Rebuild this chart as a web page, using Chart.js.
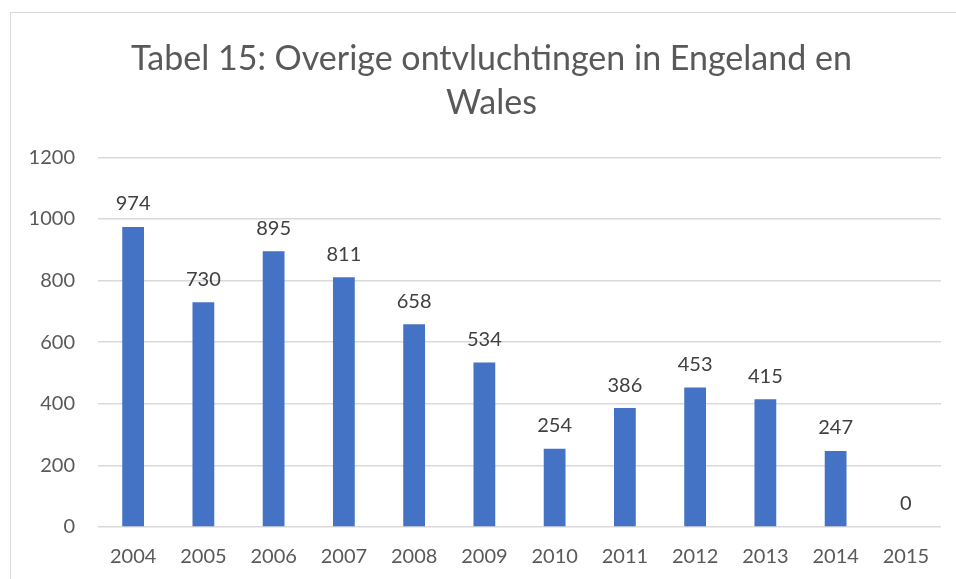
<!DOCTYPE html>
<html>
<head>
<meta charset="utf-8">
<script src="https://cdn.jsdelivr.net/npm/chart.js@4"></script>
<style>
  body { margin: 0; background: #fff; }
  #wrap { position: relative; width: 956px; height: 579px; overflow: hidden; }
  #frame { position: absolute; left: 10px; top: 12px; width: 960px; height: 600px; border: 1px solid #d9d9d9; }
  canvas { position: absolute; left: 0; top: 0; }
</style>
</head>
<body>
<div id="wrap">
  <div id="frame"></div>
  <canvas id="chart" width="956" height="579"></canvas>
</div>
<script>
const years = ['2004', '2005', '2006', '2007', '2008', '2009', '2010', '2011', '2012', '2013', '2014', '2015'];
const escapes = [974, 730, 895, 811, 658, 534, 254, 386, 453, 415, 247, 0];
const titleLines = ['Tabel 15: Overige ontvluchtingen in Engeland en', 'Wales'];

const FONT = 'Lato, "Open Sans", sans-serif';

// waarden boven de staven
const valueLabels = {
    id: 'valueLabels',
    afterLayout(chart) {
        // titel staat iets rechts van het midden, zoals in het origineel
        chart.titleBlock.left = 42;
    },
    afterDatasetsDraw(chart) {
        const ctx = chart.ctx;
        const meta = chart.getDatasetMeta(0);
        ctx.save();
        ctx.font = '20px ' + FONT;
        ctx.fillStyle = '#404040';
        ctx.textAlign = 'center';
        ctx.textBaseline = 'bottom';
        meta.data.forEach((bar, i) => {
            ctx.fillText(String(escapes[i]), bar.x, bar.y - 13);
        });
        ctx.restore();
    }
};

const ctx = document.getElementById('chart').getContext('2d');
const chart = new Chart(ctx, {
    type: 'bar',
    data: {
        labels: years,
        datasets: [{
            data: escapes,
            backgroundColor: '#4472C4',
            barPercentage: 0.62,
            categoryPercentage: 0.5
        }]
    },
    options: {
        responsive: false,
        animation: false,
        layout: { padding: { left: 0, right: 15, top: 0, bottom: 0 } },
        plugins: {
            legend: { display: false },
            tooltip: { enabled: false },
            title: {
                display: true,
                text: titleLines,
                color: '#595959',
                font: { family: FONT, size: 34, weight: 'normal', lineHeight: 1.3 },
                padding: { top: 37, bottom: 32 }
            }
        },
        scales: {
            x: {
                grid: { display: false },
                border: { display: false },
                ticks: { color: '#595959', font: { family: FONT, size: 20 }, padding: 10 },
                afterFit(scale) { scale.height = 52; }
            },
            y: {
                min: 0,
                max: 1200,
                ticks: {
                    stepSize: 200,
                    color: '#595959',
                    font: { family: FONT, size: 20 },
                    padding: 23,
                    callback: (v) => String(v)
                },
                grid: { color: '#d9d9d9', lineWidth: 1.5, drawTicks: false },
                border: { display: false },
                afterFit(scale) { scale.width = 98; }
            }
        }
    },
    plugins: [valueLabels]
});
</script>
</body>
</html>
